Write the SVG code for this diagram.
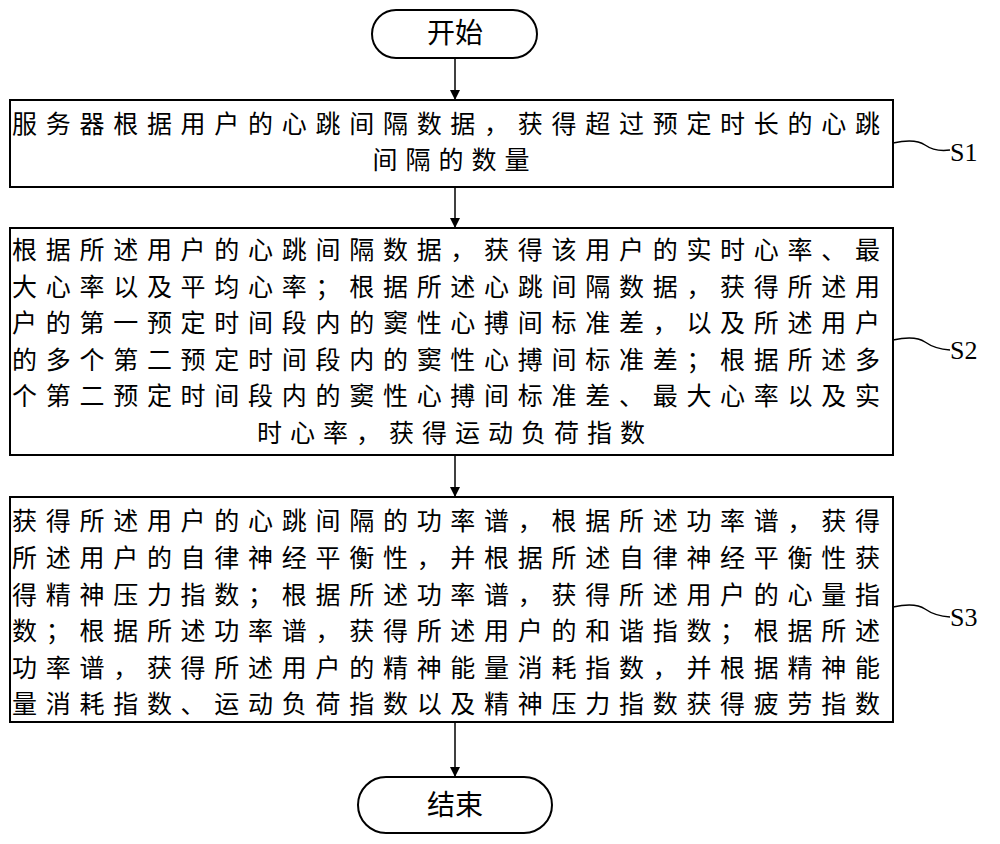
<svg xmlns="http://www.w3.org/2000/svg" width="1000" height="844" viewBox="0 0 1000 844">
<style>
.b{fill:#fff;stroke:#000;stroke-width:2}
.t{font-family:"Noto Sans CJK SC","Noto Sans CJK JP",sans-serif;font-size:25px;fill:#000}
.c{text-anchor:middle;letter-spacing:8px}
.s{font-family:"Liberation Serif",serif;font-size:26px}
.l{fill:none;stroke:#000;stroke-width:1.5}
</style>
<defs><marker id="a" markerWidth="10" markerHeight="10" refX="9" refY="5" orient="auto" markerUnits="userSpaceOnUse"><path d="M0,0L10,5L0,10z"/></marker></defs>
<g id="connectors">
<line class="l" x1="455" y1="58" x2="455" y2="99" marker-end="url(#a)"/>
<line class="l" x1="455" y1="187" x2="455" y2="227" marker-end="url(#a)"/>
<line class="l" x1="455" y1="455" x2="455" y2="496" marker-end="url(#a)"/>
<line class="l" x1="455" y1="722" x2="455" y2="776" marker-end="url(#a)"/>
<path class="l" d="M893,143 Q915,138 925,145 T950,150"/>
<path class="l" d="M893,340 Q915,335 925,342 T950,350"/>
<path class="l" d="M893,607 Q915,602 925,609 T950,617"/>
</g>
<g id="start"><rect class="b" x="372" y="10" width="165" height="48" rx="24"/><text class="t" x="455" y="43" text-anchor="middle" style="font-size:28px">开始</text></g>
<g id="s1"><rect class="b" x="10" y="100" width="883" height="87"/>
<text class="t" x="12" y="133" textLength="868" lengthAdjust="spacing">服务器根据用户的心跳间隔数据，获得超过预定时长的心跳</text>
<text class="t c" x="455" y="169">间隔的数量</text>
<text class="t s" x="950" y="161">S1</text></g>
<g id="s2"><rect class="b" x="10" y="228" width="883" height="227"/>
<text class="t" x="12" y="259" textLength="868" lengthAdjust="spacing">根据所述用户的心跳间隔数据，获得该用户的实时心率、最</text>
<text class="t" x="12" y="296" textLength="868" lengthAdjust="spacing">大心率以及平均心率；根据所述心跳间隔数据，获得所述用</text>
<text class="t" x="12" y="332" textLength="868" lengthAdjust="spacing">户的第一预定时间段内的窦性心搏间标准差，以及所述用户</text>
<text class="t" x="12" y="369" textLength="868" lengthAdjust="spacing">的多个第二预定时间段内的窦性心搏间标准差；根据所述多</text>
<text class="t" x="12" y="405" textLength="868" lengthAdjust="spacing">个第二预定时间段内的窦性心搏间标准差、最大心率以及实</text>
<text class="t c" x="455" y="442">时心率，获得运动负荷指数</text>
<text class="t s" x="950" y="359">S2</text></g>
<g id="s3"><rect class="b" x="10" y="497" width="883" height="225"/>
<text class="t" x="12" y="530" textLength="868" lengthAdjust="spacing">获得所述用户的心跳间隔的功率谱，根据所述功率谱，获得</text>
<text class="t" x="12" y="567" textLength="868" lengthAdjust="spacing">所述用户的自律神经平衡性，并根据所述自律神经平衡性获</text>
<text class="t" x="12" y="604" textLength="868" lengthAdjust="spacing">得精神压力指数；根据所述功率谱，获得所述用户的心量指</text>
<text class="t" x="12" y="640" textLength="868" lengthAdjust="spacing">数；根据所述功率谱，获得所述用户的和谐指数；根据所述</text>
<text class="t" x="12" y="677" textLength="868" lengthAdjust="spacing">功率谱，获得所述用户的精神能量消耗指数，并根据精神能</text>
<text class="t" x="12" y="713" textLength="868" lengthAdjust="spacing">量消耗指数、运动负荷指数以及精神压力指数获得疲劳指数</text>
<text class="t s" x="950" y="626">S3</text></g>
<g id="end"><rect class="b" x="358" y="777" width="194" height="56" rx="28"/><text class="t" x="455" y="815" text-anchor="middle" style="font-size:28px">结束</text></g>
</svg>
